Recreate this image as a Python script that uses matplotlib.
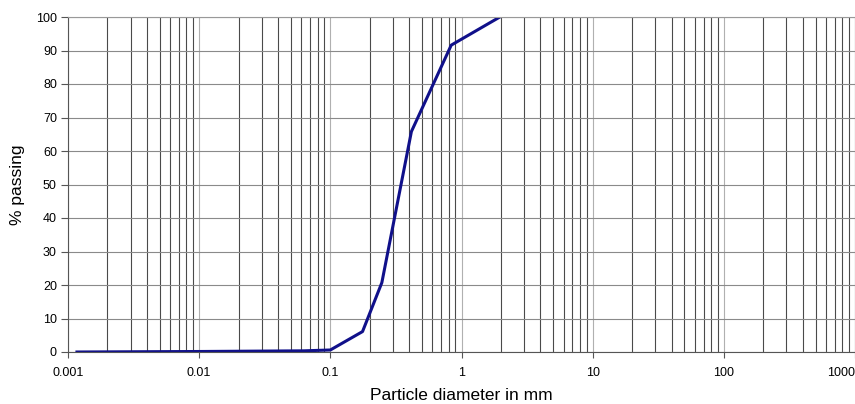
import matplotlib
matplotlib.use("Agg")
import matplotlib.pyplot as plt
from matplotlib.ticker import LogLocator, NullFormatter, FixedLocator

plt.rcParams['font.family'] = ['Liberation Sans', 'DejaVu Sans']

# grain size distribution
diameter = [0.00117, 0.01, 0.063, 0.1, 0.176, 0.247, 0.415, 0.835, 1.96]
passing = [0.0, 0.15, 0.35, 0.6, 6.1, 20.7, 65.8, 91.6, 100.0]

x_ticks = [0.001, 0.01, 0.1, 1, 10, 100, 1000]
x_tick_labels = ["0.001", "0.01", "0.1", "1", "10", "100", "1000"]
y_ticks = list(range(0, 101, 10))

fig = plt.figure(figsize=(8.55, 4.04), dpi=100)
ax = fig.add_axes([68 / 855, 1 - 352 / 404, 787 / 855, 335 / 404])

ax.set_xscale('log')
ax.set_xlim(0.001, 1000)
ax.set_ylim(0, 100)

ax.xaxis.set_major_locator(FixedLocator(x_ticks))
ax.set_xticklabels(x_tick_labels)
ax.xaxis.set_minor_locator(LogLocator(base=10, subs=range(2, 10), numticks=20))
ax.xaxis.set_minor_formatter(NullFormatter())
ax.set_yticks(y_ticks)

ax.grid(True, which='minor', axis='x', color='#4a4a4a', linewidth=0.8)
ax.grid(True, which='major', axis='x', color='#b0b0b0', linewidth=0.8)
ax.grid(True, which='major', axis='y', color='#8a8a8a', linewidth=0.8)
ax.set_axisbelow(True)

ax.plot(diameter, passing, color='#10108a', linewidth=2.2)

for s in ['top', 'right']:
    ax.spines[s].set_color('#999999')
for s in ['left', 'bottom']:
    ax.spines[s].set_color('#555555')

ax.tick_params(axis='x', which='major', length=4, color='#555555', labelsize=9, pad=7)
ax.tick_params(axis='x', which='minor', length=0)
ax.tick_params(axis='y', length=5, color='#555555', labelsize=9, pad=3)
labels = ax.get_xticklabels()
labels[-1].set_horizontalalignment('right')

ax.set_xlabel("Particle diameter in mm", fontsize=12.5, labelpad=6)
ax.set_ylabel("% passing", fontsize=12.5, labelpad=8)

fig.savefig("out.png", dpi=100)
